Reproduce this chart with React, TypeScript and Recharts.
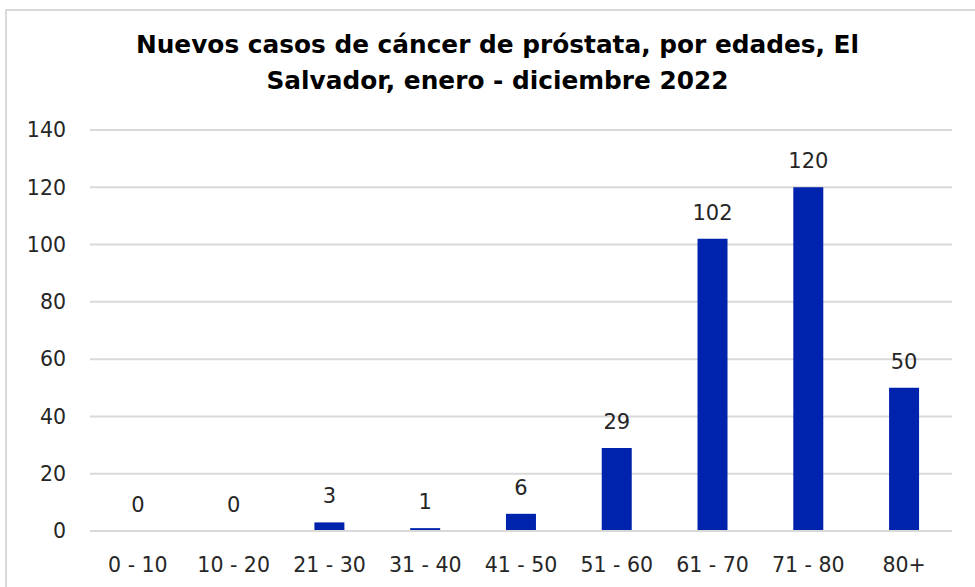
import { Bar, CartesianGrid, ComposedChart, LabelList, Line, XAxis, YAxis } from "recharts";

const ageGroups = ["0 - 10", "10 - 20", "21 - 30", "31 - 40", "41 - 50", "51 - 60", "61 - 70", "71 - 80", "80+"];
const newCases = [0, 0, 3, 1, 6, 29, 102, 120, 50];
const yTicks = [0, 20, 40, 60, 80, 100, 120, 140];

const data = ageGroups.map((group, i) => ({ group, cases: newCases[i] }));

const font = "'DejaVu Sans', sans-serif";
const textColor = "#262626";

export default function App() {
  return (
    <div style={{ position: "absolute", left: 0, top: 0, width: 975, height: 587, background: "#fff", fontFamily: font, overflow: "hidden" }}>
      <div
        style={{
          position: "absolute",
          left: 0,
          top: 0,
          width: 975,
          textAlign: "center",
          paddingTop: 27,
          fontWeight: 700,
          fontSize: 24.8,
          lineHeight: "36px",
          color: "#000",
          paddingLeft: 20,
          boxSizing: "border-box",
        }}
      >
        Nuevos casos de cáncer de próstata, por edades, El
        <br />
        Salvador, enero - diciembre 2022
      </div>
      <ComposedChart
        width={975}
        height={587}
        data={data}
        margin={{ top: 130, right: 23, left: 0, bottom: 16 }}
        barCategoryGap="34.3%"
      >
        <CartesianGrid vertical={false} stroke="#d9d9d9" strokeWidth={2} />
        <XAxis
          dataKey="group"
          height={40}
          tickLine={false}
          axisLine={{ stroke: "#d9d9d9", strokeWidth: 2 }}
          tick={{ fill: textColor, fontSize: 20.5, fontFamily: font }}
          tickMargin={20}
        />
        <YAxis
          width={90}
          domain={[0, 140]}
          ticks={yTicks}
          tickLine={false}
          axisLine={false}
          tickMargin={18}
          tick={{ fill: textColor, fontSize: 20.5, fontFamily: font }}
        />
        <Bar dataKey="cases" fill="#0023AD" isAnimationActive={false} />
        <Line
          dataKey="cases"
          stroke="none"
          dot={false}
          activeDot={false}
          legendType="none"
          isAnimationActive={false}
        >
          <LabelList dataKey="cases" position="top" offset={19} fill={textColor} fontSize={21} fontFamily={font} />
        </Line>
      </ComposedChart>
      <div
        style={{
          position: "absolute",
          left: 5,
          top: 9,
          width: 1000,
          height: 600,
          borderTop: "2px solid #d9d9d9",
          borderLeft: "2px solid #d9d9d9",
          pointerEvents: "none",
        }}
      />
    </div>
  );
}
